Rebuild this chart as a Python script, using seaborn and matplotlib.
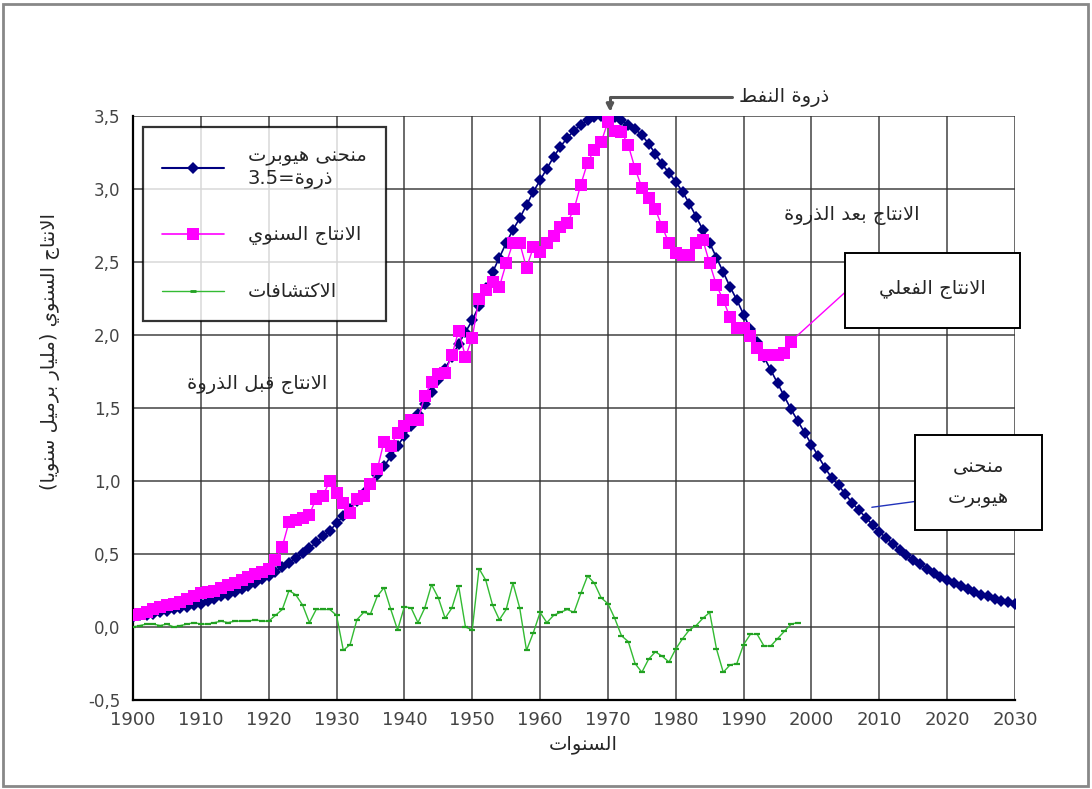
import numpy as np
import pandas as pd
import matplotlib
matplotlib.use("Agg")
import matplotlib.pyplot as plt
import seaborn as sns
from matplotlib.patches import Rectangle
from matplotlib.lines import Line2D
from matplotlib.ticker import FuncFormatter

# ---------------- data ----------------
hubbert_years = list(range(1900, 2031))
hubbert_values = [
    0.07, 0.08, 0.08, 0.09, 0.10, 0.11, 0.12, 0.13, 0.14, 0.15,
    0.16, 0.18, 0.19, 0.21, 0.22, 0.24, 0.26, 0.28, 0.30, 0.33,
    0.35, 0.38, 0.41, 0.44, 0.47, 0.51, 0.54, 0.58, 0.62, 0.66,
    0.71, 0.76, 0.81, 0.86, 0.92, 0.98, 1.04, 1.10, 1.17, 1.24,
    1.31, 1.38, 1.46, 1.53, 1.61, 1.69, 1.77, 1.85, 1.94, 2.02,
    2.10, 2.20, 2.32, 2.43, 2.53, 2.63, 2.72, 2.80, 2.89, 2.98,
    3.06, 3.14, 3.22, 3.29, 3.35, 3.40, 3.44, 3.47, 3.49, 3.50,
    3.50, 3.49, 3.47, 3.44, 3.41, 3.37, 3.31, 3.24, 3.17, 3.11,
    3.05, 2.98, 2.90, 2.81, 2.72, 2.63, 2.53, 2.43, 2.33, 2.24,
    2.14, 2.04, 1.95, 1.85, 1.76, 1.67, 1.58, 1.49, 1.41, 1.33,
    1.25, 1.17, 1.09, 1.02, 0.97, 0.91, 0.85, 0.80, 0.75, 0.70,
    0.65, 0.61, 0.57, 0.53, 0.49, 0.46, 0.43, 0.40, 0.37, 0.34,
    0.32, 0.30, 0.28, 0.26, 0.24, 0.22, 0.21, 0.19, 0.18, 0.17, 0.16,
]
production_years = list(range(1900, 1998))
production_values = [
    0.08, 0.09, 0.10, 0.12, 0.14, 0.15, 0.16, 0.17, 0.19, 0.21,
    0.23, 0.24, 0.25, 0.27, 0.29, 0.30, 0.32, 0.34, 0.36, 0.38, 0.40,
    0.46, 0.55, 0.72, 0.73, 0.75, 0.77, 0.88, 0.90, 1.00, 0.92,
    0.85, 0.78, 0.88, 0.90, 0.98, 1.08, 1.27, 1.24, 1.33, 1.38,
    1.42, 1.42, 1.58, 1.68, 1.73, 1.74, 1.86, 2.03, 1.85, 1.98,
    2.25, 2.31, 2.36, 2.33, 2.49, 2.63, 2.63, 2.46, 2.60, 2.57,
    2.63, 2.68, 2.74, 2.77, 2.86, 3.03, 3.18, 3.27, 3.32, 3.46,
    3.40, 3.39, 3.30, 3.14, 3.01, 2.94, 2.86, 2.74, 2.63, 2.56,
    2.55, 2.55, 2.63, 2.65, 2.49, 2.34, 2.24, 2.12, 2.05, 2.05,
    1.99, 1.91, 1.86, 1.86, 1.86, 1.88, 1.95,
]
discovery_years = list(range(1900, 1999))
discovery_values = [
    0.00, 0.01, 0.02, 0.02, 0.01, 0.02, 0.00, 0.01, 0.02, 0.03,
    0.02, 0.02, 0.03, 0.04, 0.03, 0.04, 0.04, 0.04, 0.05, 0.04,
    0.04, 0.08, 0.12, 0.25, 0.22, 0.15, 0.03, 0.12, 0.12, 0.12,
    0.08, -0.16, -0.12, 0.05, 0.10, 0.09, 0.21, 0.27, 0.12, -0.02,
    0.14, 0.13, 0.03, 0.13, 0.29, 0.20, 0.06, 0.13, 0.28, 0.00,
    -0.02, 0.40, 0.32, 0.15, 0.05, 0.12, 0.30, 0.13, -0.16, -0.04,
    0.10, 0.03, 0.08, 0.10, 0.12, 0.10, 0.23, 0.35, 0.30, 0.20,
    0.16, 0.06, -0.06, -0.10, -0.25, -0.31, -0.22, -0.17, -0.20, -0.24,
    -0.15, -0.08, -0.02, 0.01, 0.06, 0.10, -0.15, -0.31, -0.26, -0.25,
    -0.12, -0.05, -0.05, -0.13, -0.13, -0.08, -0.03, 0.02, 0.03,
]
x_ticks = list(range(1900, 2031, 10))
y_ticks = [-0.5, 0.0, 0.5, 1.0, 1.5, 2.0, 2.5, 3.0, 3.5]

# ---------------- Arabic shaping (presentation forms, visual order) ----------------
_FORMS = {
    'ا': (0xFE8D, 2), 'أ': (0xFE83, 2), 'إ': (0xFE87, 2), 'آ': (0xFE81, 2),
    'ب': (0xFE8F, 4), 'ة': (0xFE93, 2), 'ت': (0xFE95, 4), 'ث': (0xFE99, 4),
    'ج': (0xFE9D, 4), 'ح': (0xFEA1, 4), 'خ': (0xFEA5, 4), 'د': (0xFEA9, 2),
    'ذ': (0xFEAB, 2), 'ر': (0xFEAD, 2), 'ز': (0xFEAF, 2), 'س': (0xFEB1, 4),
    'ش': (0xFEB5, 4), 'ص': (0xFEB9, 4), 'ض': (0xFEBD, 4), 'ط': (0xFEC1, 4),
    'ظ': (0xFEC5, 4), 'ع': (0xFEC9, 4), 'غ': (0xFECD, 4), 'ف': (0xFED1, 4),
    'ق': (0xFED5, 4), 'ك': (0xFED9, 4), 'ل': (0xFEDD, 4), 'م': (0xFEE1, 4),
    'ن': (0xFEE5, 4), 'ه': (0xFEE9, 4), 'و': (0xFEED, 2), 'ى': (0xFEEF, 2),
    'ي': (0xFEF1, 4),
}
_LAMALEF = {'ا': 0xFEFB, 'أ': 0xFEF7, 'إ': 0xFEF9, 'آ': 0xFEF5}


def ar(text):
    lines = []
    for line in text.split("\n"):
        chars = list(line)
        res = []
        prev_dual = False
        i = 0
        while i < len(chars):
            c = chars[i]
            if c not in _FORMS:
                res.append(c)
                prev_dual = False
                i += 1
                continue
            if c == 'ل' and i + 1 < len(chars) and chars[i + 1] in _LAMALEF:
                res.append(chr(_LAMALEF[chars[i + 1]] + (1 if prev_dual else 0)))
                prev_dual = False
                i += 2
                continue
            base, nf = _FORMS[c]
            nxt = chars[i + 1] if i + 1 < len(chars) else ''
            cn = nf == 4 and nxt in _FORMS
            cp = prev_dual
            f = 3 if (cp and cn) else 1 if cp else 2 if cn else 0
            res.append(chr(base + f))
            prev_dual = nf == 4
            i += 1
        vis = ''.join(reversed(res))
        vis = vis.translate(str.maketrans({'(': ')', ')': '('}))
        lines.append(vis)
    return "\n".join(lines)


# ---------------- figure ----------------
sns.set_style("white")
plt.rcParams['font.family'] = ['DejaVu Sans']

W, H = 1092, 789
fig = plt.figure(figsize=(W / 100, H / 100), dpi=100)
ax = fig.add_axes([133 / W, 89 / H, 882 / W, 584 / H])

navy = '#000080'
pink = '#FF00FF'
green = '#33BB33'

sns.lineplot(x=hubbert_years, y=hubbert_values, ax=ax, color=navy, marker='D',
             markersize=6, markeredgewidth=0, linewidth=1.2, zorder=4)
sns.lineplot(x=production_years, y=production_values, ax=ax, color=pink, marker='s',
             markersize=8, markeredgewidth=0, linewidth=1.0, zorder=5)
sns.lineplot(x=discovery_years, y=discovery_values, ax=ax, color=green, marker='_',
             markersize=4, markeredgewidth=1.6, markeredgecolor='#22A022',
             linewidth=1.0, zorder=3)

ax.set_xlim(1900, 2030)
ax.set_ylim(-0.5, 3.5)
ax.set_xticks(x_ticks)
ax.set_yticks(y_ticks)
ax.yaxis.set_major_formatter(FuncFormatter(lambda v, p: f"{v:.1f}".replace('.', ',')))
ax.grid(True, color='#333333', linewidth=1.2, alpha=0.85, zorder=0)
ax.set_axisbelow(True)
for s in ['top', 'right']:
    ax.spines[s].set_visible(False)
for s in ['left', 'bottom']:
    ax.spines[s].set_color('black')
    ax.spines[s].set_linewidth(1.6)
ax.tick_params(axis='both', direction='out', length=5, width=1.2, color='black')
ax.tick_params(axis='y', labelsize=12, labelcolor='#444444', pad=4)
ax.tick_params(axis='x', labelsize=13, labelcolor='#444444', pad=3)
for lab in ax.get_xticklabels():
    lab.set_fontfamily(['Liberation Sans Narrow', 'DejaVu Sans'])
ax.set_xlabel('')
ax.set_ylabel('')

fs = 14
# axis titles
fig.text(50 / W, 1 - 352 / H, ar("الانتاج السنوي (مليار برميل سنويا)"), rotation=90,
         ha='center', va='center', fontsize=fs)
fig.text(583 / W, 1 - 745 / H, ar("السنوات"), ha='center', va='center', fontsize=fs)

# legend
handles = [
    Line2D([], [], color=navy, marker='D', markersize=6, markeredgewidth=0, linewidth=1.5),
    Line2D([], [], color=pink, marker='s', markersize=8, markeredgewidth=0, linewidth=1.2),
    Line2D([], [], color=green, marker='_', markersize=5, markeredgewidth=2,
           markeredgecolor='#22A022', linewidth=1.0),
]
labels = [
    ar("منحنى هيوبرت") + "\n" + "3.5=" + ar("ذروة"),
    ar("الانتاج السنوي"),
    ar("الاكتشافات"),
]
leg = ax.legend(handles, labels, loc='upper left', bbox_to_anchor=(0.011, 0.981),
                frameon=True, fancybox=False, edgecolor='black', fontsize=fs,
                handlelength=3.2, handletextpad=1.2, borderpad=1.0, labelspacing=1.9,
                numpoints=1, borderaxespad=0)
leg.get_frame().set_linewidth(1.6)
leg.set_zorder(10)

# annotations
ax.annotate(ar("ذروة النفط"), xy=(1970.3, 3.53), xytext=(1996, 3.63),
            ha='center', va='center', fontsize=fs, annotation_clip=False,
            arrowprops=dict(arrowstyle='-|>', color='#555555', lw=2.2, mutation_scale=10,
                            connectionstyle='angle,angleA=0,angleB=90,rad=0',
                            shrinkA=3, shrinkB=0))
ax.text(2006, 2.82, ar("الانتاج بعد الذروة"), ha='center', va='center', fontsize=fs, zorder=6)
ax.text(1918.3, 1.66, ar("الانتاج قبل الذروة"), ha='center', va='center', fontsize=fs, zorder=6)

# box: actual production
ax.add_patch(Rectangle((2004.9, 2.05), 2030.7 - 2004.9, 2.56 - 2.05, facecolor='white',
                       edgecolor='black', linewidth=1.4, clip_on=False, zorder=7))
ax.text(2017.8, 2.31, ar("الانتاج الفعلي"), ha='center', va='center', fontsize=fs, zorder=8)
ax.plot([2004.9, 1997.3], [2.29, 1.97], color=pink, linewidth=1.0, zorder=6, clip_on=False)

# box: Hubbert curve
ax.add_patch(Rectangle((2015.3, 0.664), 2034.0 - 2015.3, 1.315 - 0.664, facecolor='white',
                       edgecolor='black', linewidth=1.4, clip_on=False, zorder=7))
ax.text(2024.6, 0.99, ar("منحنى\nهيوبرت"), ha='center', va='center', fontsize=fs,
        linespacing=1.8, zorder=8)
ax.plot([2015.3, 2008.9], [0.86, 0.82], color='#2233BB', linewidth=1.0, zorder=6, clip_on=False)

# outer border
fig.add_artist(Rectangle((3 / W, 3 / H), 1 - 7 / W, 1 - 7 / H, transform=fig.transFigure,
                         fill=False, edgecolor='#888888', linewidth=2))

fig.savefig("out.png", dpi=100)
